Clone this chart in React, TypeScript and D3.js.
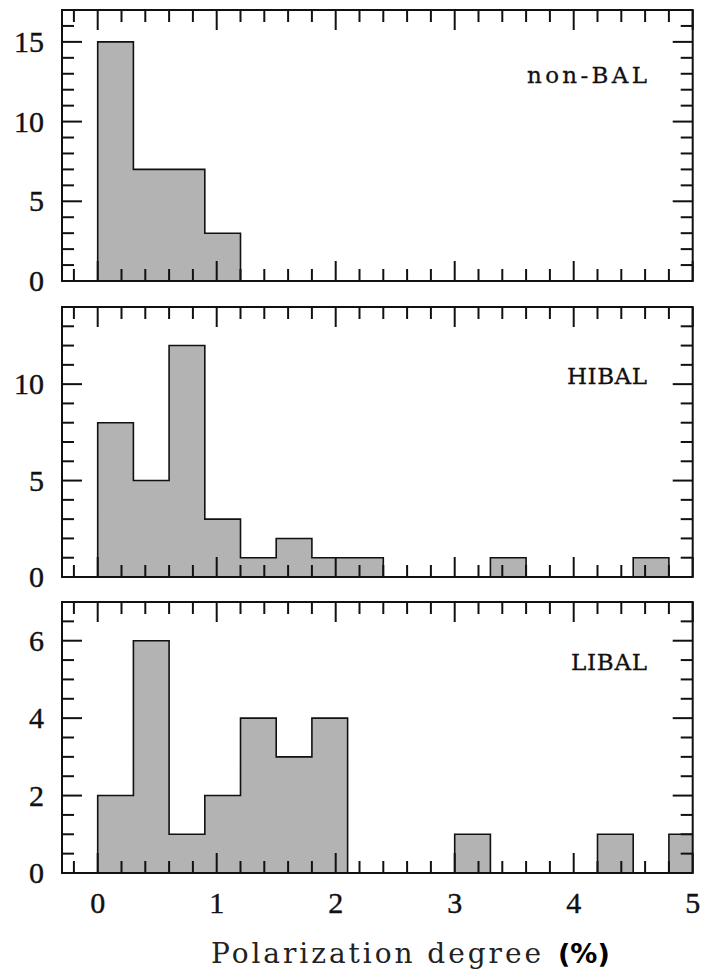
import React from "react";
import * as d3 from "d3";

// ---- data ----
const binStarts = [0, 0.3, 0.6, 0.9, 1.2, 1.5, 1.8, 2.1, 2.4, 2.7, 3.0, 3.3, 3.6, 3.9, 4.2, 4.5, 4.8];
const binWidth = 0.3;
const nonBAL = [15, 7, 7, 3];
const HIBAL = [8, 5, 12, 3, 1, 2, 1, 1, 0, 0, 0, 1, 0, 0, 0, 1];
const LIBAL = [2, 6, 1, 2, 4, 3, 4, 0, 0, 0, 1, 0, 0, 0, 1, 0, 1];
const xTickLabels = [0, 1, 2, 3, 4, 5];
const panelNames = ["non-BAL", "HIBAL", "LIBAL"];
const yMaxes = [17, 14, 7];
const yMajorTicks = [[0, 5, 10, 15], [0, 5, 10], [0, 2, 4, 6]];
const yMinorSteps = [1, 1, 0.5];
const xDomain: [number, number] = [-0.3, 5];

// ---- layout ----
const W = 705;
const H = 972;
const left = 62;
const right = 692.7;
const panelBoxes = [
  { top: 10, bottom: 281, labelY: 83, labelLen: 120 },
  { top: 307, bottom: 577, labelY: 384, labelLen: 80 },
  { top: 602, bottom: 873, labelY: 670, labelLen: 76 },
];
const labelRight = 647;
const MAJOR = 20;
const MINOR = 12;
const FILL = "#b3b3b3";
const INK = "#111";
const serif = "'Liberation Serif', 'DejaVu Serif', serif";

const x = d3.scaleLinear().domain(xDomain).range([left, right]);
const xMinor = d3.range(-0.2, 5.0001, 0.2).map((v) => Math.round(v * 10) / 10);

function Panel({ idx }: { idx: number }) {
  const box = panelBoxes[idx];
  const counts = [nonBAL, HIBAL, LIBAL][idx];
  const y = d3.scaleLinear().domain([0, yMaxes[idx]]).range([box.bottom, box.top]);
  const pts: [number, number][] = [];
  counts.forEach((c, i) => {
    const x0 = binStarts[i];
    const x1 = binStarts[i] + binWidth;
    if (i === 0) pts.push([x0, 0]);
    pts.push([x0, c]);
    pts.push([x1, c]);
    if (i === counts.length - 1) pts.push([x1, 0]);
  });
  const line = d3.line<[number, number]>().x((d) => x(d[0])).y((d) => y(d[1]));
  const area = d3
    .area<[number, number]>()
    .x((d) => x(d[0]))
    .y0(y(0))
    .y1((d) => y(d[1]));
  const clipId = `clip${idx}`;
  const yMinor = d3.range(0, yMaxes[idx] + 0.0001, yMinorSteps[idx]);
  const isMajorX = (v: number) => Math.abs(v - Math.round(v)) < 1e-6;
  const isMajorY = (v: number) => yMajorTicks[idx].some((m) => Math.abs(m - v) < 1e-6);
  return (
    <g>
      <defs>
        <clipPath id={clipId}>
          <rect x={left} y={box.top} width={right - left} height={box.bottom - box.top} />
        </clipPath>
      </defs>
      <g clipPath={`url(#${clipId})`}>
        <path d={area(pts) || ""} fill={FILL} stroke="none" />
        <path d={line(pts) || ""} fill="none" stroke={INK} strokeWidth={1.6} />
      </g>
      {xMinor.map((v) => {
        const len = isMajorX(v) ? MAJOR : MINOR;
        const xx = x(v);
        return (
          <g key={`xt${v}`} stroke={INK} strokeWidth={2}>
            <line x1={xx} x2={xx} y1={box.bottom} y2={box.bottom - len} />
            <line x1={xx} x2={xx} y1={box.top} y2={box.top + len} />
          </g>
        );
      })}
      {yMinor.map((v) => {
        const len = isMajorY(v) ? MAJOR : MINOR;
        const yy = y(v);
        return (
          <g key={`yt${v}`} stroke={INK} strokeWidth={2}>
            <line x1={left} x2={left + len} y1={yy} y2={yy} />
            <line x1={right} x2={right - len} y1={yy} y2={yy} />
          </g>
        );
      })}
      <rect
        x={left}
        y={box.top}
        width={right - left}
        height={box.bottom - box.top}
        fill="none"
        stroke={INK}
        strokeWidth={2}
      />
      {yMajorTicks[idx].map((v) => (
        <text
          key={`yl${v}`}
          x={44}
          y={y(v)}
          dy="0.34em"
          textAnchor="end"
          fontFamily={serif}
          fontSize={30}
          fill={INK}
          stroke={INK}
          strokeWidth={0.4}
        >
          {v}
        </text>
      ))}
      <text
        x={labelRight}
        y={box.labelY}
        textAnchor="end"
        fontFamily="'DejaVu Serif', serif"
        fontSize={23}
        fill={INK}
        stroke={INK}
        strokeWidth={0.3}
        textLength={box.labelLen}
        lengthAdjust="spacing"
      >
        {panelNames[idx]}
      </text>
      {idx === 2 &&
        xTickLabels.map((v) => (
          <text
            key={`xl${v}`}
            x={x(v)}
            y={913}
            textAnchor="middle"
            fontFamily={serif}
            fontSize={30}
            fill={INK}
            stroke={INK}
            strokeWidth={0.4}
          >
            {v}
          </text>
        ))}
    </g>
  );
}

export default function App() {
  return (
    <svg
      width={W}
      height={H}
      viewBox={`0 0 ${W} ${H}`}
      style={{ position: "absolute", left: 0, top: 0, display: "block", background: "#fff" }}
    >
      <rect x={0} y={0} width={W} height={H} fill="#fff" />
      {[0, 1, 2].map((i) => (
        <Panel key={i} idx={i} />
      ))}
      <text
        x={211}
        y={963}
        fontFamily="'DejaVu Serif', serif"
        fontSize={28}
        fill="#222"
        textLength={330}
        lengthAdjust="spacing"
      >
        Polarization degree
      </text>
      <text
        x={558}
        y={963}
        fontFamily="'DejaVu Sans', Verdana, sans-serif"
        fontWeight="bold"
        fontSize={27}
        fill="#000"
      >
        (%)
      </text>
    </svg>
  );
}
